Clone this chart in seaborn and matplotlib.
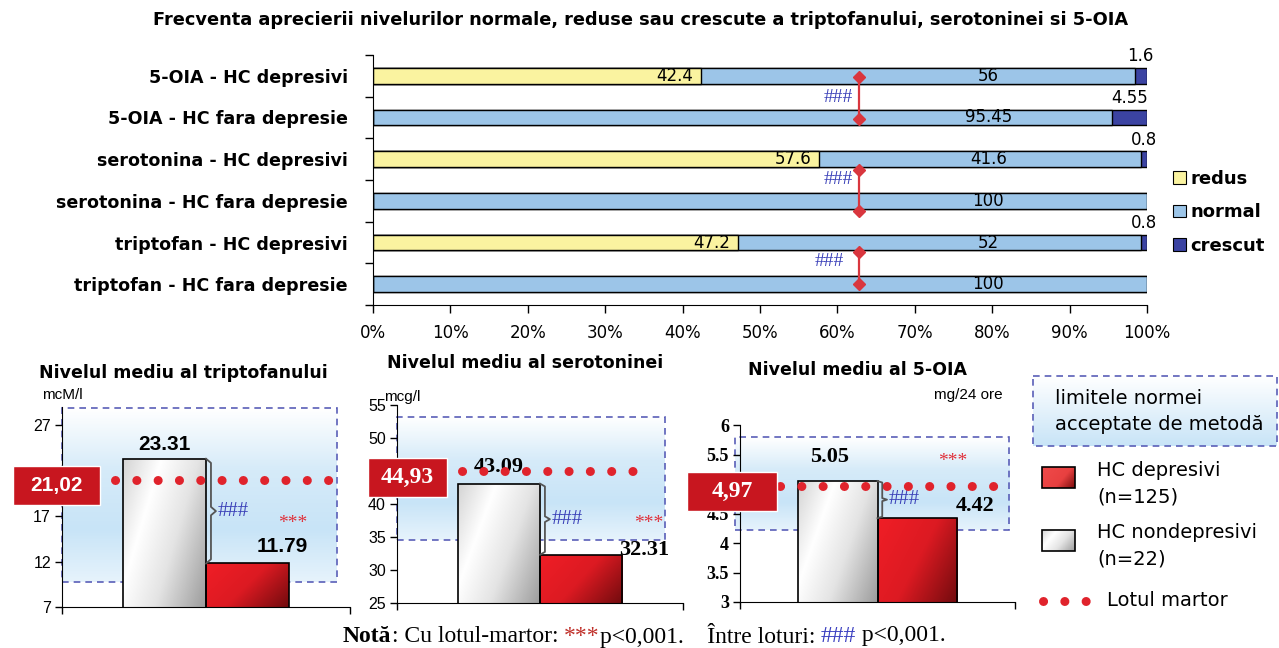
import numpy as np
import pandas as pd
import matplotlib
matplotlib.use("Agg")
import matplotlib.pyplot as plt
import seaborn as sns
from matplotlib.patches import Rectangle, Patch
from matplotlib.colors import LinearSegmentedColormap

# ======================= DATA =======================
top_title = ("Frecventa aprecierii nivelurilor normale, reduse sau crescute "
             "a triptofanului, serotoninei si 5-OIA")
top_categories = ["5-OIA - HC depresivi", "5-OIA - HC fara depresie",
                  "serotonina - HC depresivi", "serotonina - HC fara depresie",
                  "triptofan - HC depresivi", "triptofan - HC fara depresie"]
redus = [42.4, 0, 57.6, 0, 47.2, 0]
normal = [56, 95.45, 41.6, 100, 52, 100]
crescut = [1.6, 4.55, 0.8, 0, 0.8, 0]
series_names = ["redus", "normal", "crescut"]
pct_ticks = list(range(0, 101, 10))
pct_ticklabels = [f"{t}%" for t in pct_ticks]

groups = ["HC nondepresivi", "HC depresivi"]
panel_titles = ["Nivelul mediu al triptofanului", "Nivelul mediu al serotoninei",
                "Nivelul mediu al 5-OIA"]
panel_units = ["mcM/l", "mcg/l", "mg/24 ore"]
triptofan_means = [23.31, 11.79]
serotonina_means = [43.09, 32.31]
oia_means = [5.05, 4.42]
control_means = [21.02, 44.93, 4.97]
control_texts = ["21,02", "44,93", "4,97"]
norm_ranges = [(9.8, 28.9), (34.5, 53.2), (4.22, 5.79)]
panel_yticks = [[7, 12, 17, 22, 27], [25, 30, 35, 40, 45, 50, 55],
                [3, 3.5, 4, 4.5, 5, 5.5, 6]]
panel_ylims = [(7, 29), (25, 55), (3, 6)]

norm_label_lines = ["limitele normei", "acceptate de metodă"]
legend_groups = [["HC depresivi", "(n=125)"], ["HC nondepresivi", "(n=22)"]]
control_label = "Lotul martor"
note_parts = [("Notă", "bold", "black"), (": Cu lotul-martor: ", "normal", "black"),
              ("***", "normal", "#c0302a"), ("p<0,001.    Între loturi: ", "normal", "black"),
              ("###", "normal", "#3a3fc0"), (" p<0,001.", "normal", "black")]

# ======================= STYLE =======================
plt.rcParams["font.family"] = ["DejaVu Sans"]
COL_REDUS, COL_NORMAL, COL_CRESCUT = "#faf3a0", "#9cc5e8", "#3b43a2"
COL_HASH = "#3a40b8"
COL_STAR = "#e0303a"
COL_DOT = "#e0232c"
COL_BOX = "#c8161f"
SANS = "Liberation Sans"
SERIF = "Liberation Serif"

W, H = 1279, 648
fig = plt.figure(figsize=(W / 100, H / 100), dpi=100)
fig.patch.set_facecolor("white")


def px_axes(x0, y0, x1, y1, **kw):
    return fig.add_axes([x0 / W, 1 - y1 / H, (x1 - x0) / W, (y1 - y0) / H], **kw)


def grad_cmap(stops):
    return LinearSegmentedColormap.from_list("g", stops)


def gradient(ax, extent, cmap, mode, zorder, clip=None):
    n = 96
    xx, yy = np.meshgrid(np.linspace(0, 1, n), np.linspace(0, 1, n))
    if mode == "diag":
        t = 0.65 * xx + 0.35 * (1 - yy)
    else:
        t = yy
    im = ax.imshow(t, cmap=cmap, vmin=0, vmax=1, extent=extent, origin="lower",
                   aspect="auto", interpolation="bilinear", zorder=zorder)
    if clip is not None:
        im.set_clip_path(clip)
    return im


CM_WHITE = grad_cmap([(0, "#d4d4d4"), (0.3, "#ffffff"), (0.6, "#e4e4e4"), (1, "#9c9c9c")])
CM_RED = grad_cmap([(0, "#f01e26"), (0.5, "#dc1a22"), (1, "#720b0e")])
CM_NORM = grad_cmap([(0, "#e6f3fc"), (0.3, "#c8e4f7"), (0.65, "#d6ebf9"), (1, "#ffffff")])
DOTS = dict(color=COL_DOT, lw=6.5, linestyle=(0, (0.01, 2.35)), dash_capstyle="round")

# ======================= TOP CHART =======================
ax = px_axes(373, 55, 1147, 305)
df_top = pd.DataFrame({"categorie": top_categories, "redus": redus,
                       "normal": normal, "crescut": crescut})
df_top["pana_la_normal"] = df_top["redus"] + df_top["normal"]
df_top["total"] = df_top["pana_la_normal"] + df_top["crescut"]
for col, colr in [("total", COL_CRESCUT), ("pana_la_normal", COL_NORMAL), ("redus", COL_REDUS)]:
    sns.barplot(data=df_top, x=col, y="categorie", orient="h", color=colr, saturation=1,
                width=0.38, edgecolor="black", linewidth=1.0, errorbar=None, ax=ax)
ax.set_xlim(0, 100)
ax.set_ylim(5.5, -0.5)
ax.set_xlabel("")
ax.set_ylabel("")
ax.set_xticks(pct_ticks, pct_ticklabels, fontsize=12)
ax.set_yticks(range(len(top_categories)), top_categories, fontsize=12.6, fontweight="bold")
ax.set_yticks(np.arange(-0.5, len(top_categories), 1), minor=True)
ax.tick_params(axis="y", which="major", length=0, pad=18)
ax.tick_params(axis="y", which="minor", length=6, direction="out", width=1)
ax.tick_params(axis="x", length=6, direction="out", width=1, pad=8)
for s in ["top", "right"]:
    ax.spines[s].set_visible(False)

for i, row in df_top.iterrows():
    if row["redus"] > 0:
        ax.text(row["redus"] - 1.0, i, f"{row['redus']:g}", ha="right", va="center", fontsize=12)
    ax.text(79.5, i, f"{row['normal']:g}", ha="center", va="center", fontsize=12)
    if row["crescut"] > 0:
        ax.text(row["pana_la_normal"] + row["crescut"] / 2, i - 0.47, f"{row['crescut']:g}",
                ha="center", va="center", fontsize=12)

sig_lines = [(0.03, 1.03, 0.52, 62.0), (2.25, 3.25, 2.49, 62.0), (4.23, 5.0, 4.46, 60.8)]
for y0, y1, yh, xh in sig_lines:
    ax.plot([62.8, 62.8], [y0, y1], color="#d9363e", lw=1.6, marker="D", ms=6, zorder=6)
    ax.text(xh, yh, "###", ha="right", va="center", color=COL_HASH, fontsize=14, family=SERIF)

handles = [Patch(facecolor=c, edgecolor="black", linewidth=0.8, label=n)
           for n, c in zip(series_names, [COL_REDUS, COL_NORMAL, COL_CRESCUT])]
ax.legend(handles=handles, loc="upper left", bbox_to_anchor=(1173 / W, 1 - 170 / H),
          bbox_transform=fig.transFigure, frameon=False, prop={"weight": "bold", "size": 13},
          handlelength=0.7, handleheight=0.7, handletextpad=0.25, labelspacing=0.85,
          borderaxespad=0, borderpad=0)

# overlay axes in pixel coordinates (top-left origin)
ov = fig.add_axes([0, 0, 1, 1], zorder=10)
ov.set_xlim(0, W)
ov.set_ylim(H, 0)
ov.axis("off")

ov.text(641, 20, top_title, ha="center", va="center", fontsize=12.8, fontweight="bold")

# ======================= BOTTOM PANELS =======================
panel_boxes = [(62, 407, 350, 607), (397, 405, 683, 603), (740, 425, 1015, 602)]
panel_means = [triptofan_means, serotonina_means, oia_means]
XL = (-1.24, 2.24)
layout = [
    dict(tick_font=dict(family=SANS, size=11.5), val_font=dict(family=SANS, weight="bold", size=15),
         white_lab=(0.0, 24.9), red_lab=(1.42, 13.7), stars=(1.55, 16.2), dots=(-0.60, 2.02),
         nbox_x=(-1.24, 2.08), cbox_x=(13, 100), cbox_font=dict(family=SANS, weight="bold", size=15),
         title_xy=(183, 373), unit_xy=(42, 395, "left")),
    dict(tick_font=dict(family=SANS, size=11.5), val_font=dict(family=SERIF, weight="bold", size=16),
         white_lab=(0.0, 45.6), red_lab=(1.77, 33.1), stars=(1.82, 37.0), dots=(-0.45, 1.68),
         nbox_x=(-1.24, 2.02), cbox_x=(368, 447), cbox_font=dict(family=SERIF, weight="bold", size=17),
         title_xy=(525, 363), unit_xy=(384, 397, "left")),
    dict(tick_font=dict(family=SERIF, weight="bold", size=13), val_font=dict(family=SERIF, weight="bold", size=16),
         white_lab=(-0.11, 5.46), red_lab=(1.73, 4.62), stars=(1.45, 5.38), dots=(-0.74, 1.98),
         nbox_x=(-1.30, 2.17), cbox_x=(687, 777), cbox_font=dict(family=SERIF, weight="bold", size=17),
         title_xy=(857, 370), unit_xy=(1003, 395, "right")),
]

for k in range(3):
    L = layout[k]
    axp = px_axes(*panel_boxes[k])
    dfp = pd.DataFrame({"grup": groups, "valoare": panel_means[k]})
    sns.barplot(data=dfp, x="grup", y="valoare", hue="grup", palette=["#ffffff", "#e01b22"],
                saturation=1, width=1, edgecolor="black", linewidth=1.2, errorbar=None,
                legend=False, ax=axp)
    ylo, yhi = panel_ylims[k]
    # gradient fills for bars
    for patch, cm in zip(axp.patches[:2], [CM_WHITE, CM_RED]):
        x0, w = patch.get_x(), patch.get_width()
        y1 = patch.get_y() + patch.get_height()
        gradient(axp, [x0, x0 + w, ylo, y1], cm, "diag", 0.9, clip=patch)
        patch.set_facecolor("none")
        patch.set_zorder(1.0)
    # norm range box
    n0, n1 = norm_ranges[k]
    bx0, bx1 = L["nbox_x"]
    im = gradient(axp, [bx0, bx1, n0, n1], CM_NORM, "vert", 0.2)
    im.set_clip_on(False)
    axp.add_patch(Rectangle((bx0, n0), bx1 - bx0, n1 - n0, fill=False, edgecolor="#5a5fb8",
                            lw=1.2, linestyle=(0, (4, 3)), zorder=0.6, clip_on=False))
    # control dotted line
    axp.plot(list(L["dots"]), [control_means[k]] * 2, zorder=4, clip_on=False, **DOTS)
    # value labels
    vw, vr = panel_means[k]
    axp.text(*L["white_lab"], f"{vw:.2f}", ha="center", va="center", **L["val_font"])
    axp.text(*L["red_lab"], f"{vr:.2f}", ha="center", va="center", zorder=5, **L["val_font"])
    axp.text(*L["stars"], "***", ha="center", va="center", color=COL_STAR, family=SERIF, fontsize=14)
    # brace between bars
    bw = 0.12
    xb = 0.5
    mid = (vw + vr) / 2
    c = (vw - vr) * 0.04
    bx = [xb, xb + bw * 0.5, xb + bw * 0.5, xb + bw, xb + bw * 0.5, xb + bw * 0.5, xb]
    byy = [vw, vw - c, mid + c, mid, mid - c, vr + c, vr]
    axp.plot(bx, byy, color="#555555", lw=1.3, zorder=5)
    axp.text(xb + bw + 0.02, mid, "###", ha="left", va="center", color=COL_HASH,
             family=SERIF, fontsize=15)
    # axes style
    axp.set_xlim(*XL)
    axp.set_ylim(ylo, yhi)
    axp.set_xlabel("")
    axp.set_ylabel("")
    axp.set_xticks(list(XL), ["", ""])
    # tick labels hidden behind the control value box are left blank
    yt = panel_yticks[k]
    span = (yhi - ylo) / (panel_boxes[k][3] - panel_boxes[k][1]) * 22
    labels = ["" if abs(t - control_means[k]) < span else f"{t:g}" for t in yt]
    axp.set_yticks(yt, labels)
    for lab in axp.get_yticklabels():
        lab.set_fontfamily(L["tick_font"]["family"])
        lab.set_fontsize(L["tick_font"]["size"])
        lab.set_fontweight(L["tick_font"].get("weight", "normal"))
    axp.tick_params(length=5, direction="out", width=1, pad=3)
    for s in ["top", "right"]:
        axp.spines[s].set_visible(False)
    axp.patch.set_alpha(0)
    # control value box (overlay, pixel coordinates)
    ypix = H - axp.transData.transform((0, control_means[k]))[1] + 6
    cx0, cx1 = L["cbox_x"]
    ov.add_patch(Rectangle((cx0, ypix - 19.5), cx1 - cx0, 39, facecolor=COL_BOX,
                           edgecolor="white", lw=1))
    ov.text((cx0 + cx1) / 2, ypix, control_texts[k], ha="center", va="center",
            color="white", **L["cbox_font"])
    # titles and units
    ov.text(*L["title_xy"], panel_titles[k], ha="center", va="center", fontsize=12.5,
            fontweight="bold")
    ux, uy, uha = L["unit_xy"]
    ov.text(ux, uy, panel_units[k], ha=uha, va="center", fontsize=11, family=SANS)

# ======================= RIGHT LEGEND =======================
gradient(ov, [1033, 1277, 446, 376], grad_cmap([(0, "#c8e4f7"), (1, "#ffffff")]), "vert", 1)
ov.add_patch(Rectangle((1033, 376), 244, 70, fill=False, edgecolor="#5a5fb8", lw=1.2,
                       linestyle=(0, (4, 3)), zorder=2))
ov.text(1055, 398, norm_label_lines[0], ha="left", va="center", fontsize=14)
ov.text(1055, 425, norm_label_lines[1], ha="left", va="center", fontsize=14)

leg_red = Rectangle((1042, 467), 33, 21, facecolor="none", edgecolor="black", lw=1.2, zorder=3)
ov.add_patch(leg_red)
gradient(ov, [1042, 1075, 488, 467], grad_cmap([(0, "#f04a4a"), (0.6, "#e84040"), (1, "#7a0c0c")]),
         "diag", 2, clip=leg_red)
leg_white = Rectangle((1042, 530), 33, 21, facecolor="none", edgecolor="black", lw=1.2, zorder=3)
ov.add_patch(leg_white)
gradient(ov, [1042, 1075, 551, 530], CM_WHITE, "diag", 2, clip=leg_white)
for (l1, l2), yy in zip(legend_groups, [470, 532]):
    ov.text(1097, yy, l1, ha="left", va="center", fontsize=14)
    ov.text(1097, yy + 27, l2, ha="left", va="center", fontsize=14)
ov.plot([1043, 1088], [601, 601], **DOTS)
ov.text(1107, 601, control_label, ha="left", va="center", fontsize=14)
ov.set_xlim(0, W)
ov.set_ylim(H, 0)

# ======================= NOTE =======================
renderer = fig.canvas.get_renderer()
NOTE_FS = 17


def text_w(s, weight):
    t = ov.text(0, 0, s + "|", fontsize=NOTE_FS, family=SERIF, fontweight=weight)
    t2 = ov.text(0, 0, "|", fontsize=NOTE_FS, family=SERIF, fontweight=weight)
    w = t.get_window_extent(renderer).width - t2.get_window_extent(renderer).width
    t.remove()
    t2.remove()
    return w


x = 343
for s, wgt, colr in note_parts:
    ov.text(x, 636, s, ha="left", va="center", fontsize=NOTE_FS, family=SERIF,
            fontweight=wgt, color=colr)
    x += text_w(s, wgt)

fig.savefig("out.png", dpi=100, facecolor="white")
